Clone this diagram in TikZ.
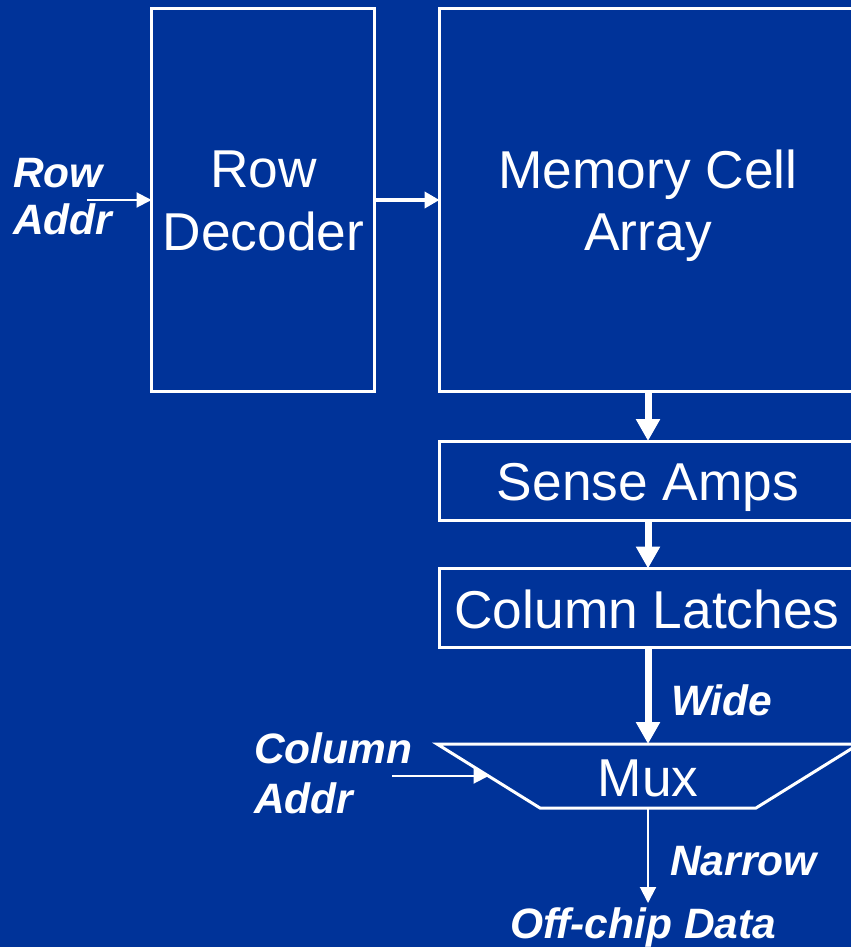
\documentclass[tikz,border=0pt]{standalone}
\usepackage{fontspec}
\setmainfont{Liberation Sans}
\usetikzlibrary{arrows.meta,calc}
\definecolor{bg}{RGB}{0,51,153}
\begin{document}
\begin{tikzpicture}[x=1pt,y=-1pt,
  box/.style={draw=white,line width=3pt,inner sep=0pt,outer sep=0pt},
  big/.style={text=white,font=\fontsize{53.3}{63}\selectfont,inner sep=0pt,anchor=base},
  lab/.style={text=white,font=\fontsize{42.5}{50}\selectfont\bfseries\itshape,inner sep=0pt,anchor=base west},
  fat/.style={white,line width=7pt,-{Triangle[width=23pt,length=22pt]}},
  mid/.style={white,line width=4pt,-{Triangle[width=16pt,length=15pt]}},
  thin/.style={white,line width=2pt,-{Triangle[width=15pt,length=15pt]}}
]
\fill[bg] (0,0) rectangle (851,947);
\useasboundingbox (0,0) rectangle (851,947);
\clip (0,0) rectangle (851,947);

% boxes
\node[box,minimum width=223pt,minimum height=383pt] (rd) at (263,200) {};
\node[box,minimum width=419pt,minimum height=383pt] (mca) at (649,200) {};
\node[box,minimum width=419pt,minimum height=79pt] (sa) at (649,480.5) {};
\node[box,minimum width=419pt,minimum height=79pt] (cl) at (649,608) {};

% box texts
\node[big] (rdt1) at (263.5,187) {Row};
\node[big] (rdt2) at (263.5,250) {Decoder};
\node[big] (mct1) at (648,188) {Memory Cell};
\node[big] (mct2) at (648,250) {Array};
\node[big] (sat) at (648,500) {Sense Amps};
\node[big] (clt) at (647,628) {Column Latches};

% mux trapezoid
\coordinate (mtl) at (437,744);
\coordinate (mtr) at (859,744);
\coordinate (mbr) at (756,808);
\coordinate (mbl) at (540,808);
\draw[white,line width=3pt,line join=miter] (mtl) -- (mtr) -- (mbr) -- (mbl) -- cycle;
\node[big] (mux) at (648,796) {Mux};
\coordinate (cin) at ($(mtl)!0.5!(mbl)$);
\coordinate (mtop) at (648,744);
\coordinate (mbot) at (648,808);

% labels
\node[lab] (ra1) at (13,187) {Row};
\node[lab] (ra2) at (13,234) {Addr};
\node[lab] (ca1) at (254,763) {Column};
\node[lab] (ca2) at (254,813) {Addr};
\node[lab] (wide) at (671,715) {Wide};
\node[lab] (narrow) at (670,875) {Narrow};
\node[lab] (off) at (510,938) {Off-chip Data};

% connectors
\coordinate (rast) at (87,200);
\coordinate (cast) at (392,776);
\coordinate (oend) at (648,903);
\draw[thin] (rast) -- (rd.west);
\draw[mid] (rd.east) -- (mca.west);
\draw[fat] (mca.south -| mtop) -- (sa.north -| mtop);
\draw[fat] (sa.south -| mtop) -- (cl.north -| mtop);
\draw[fat] (cl.south -| mtop) -- (mtop);
\draw[thin] (cast) -- (cin);
\draw[white,line width=2pt,-{Triangle[width=16pt,length=16pt]}] (mbot) -- (oend);
\end{tikzpicture}
\end{document}
